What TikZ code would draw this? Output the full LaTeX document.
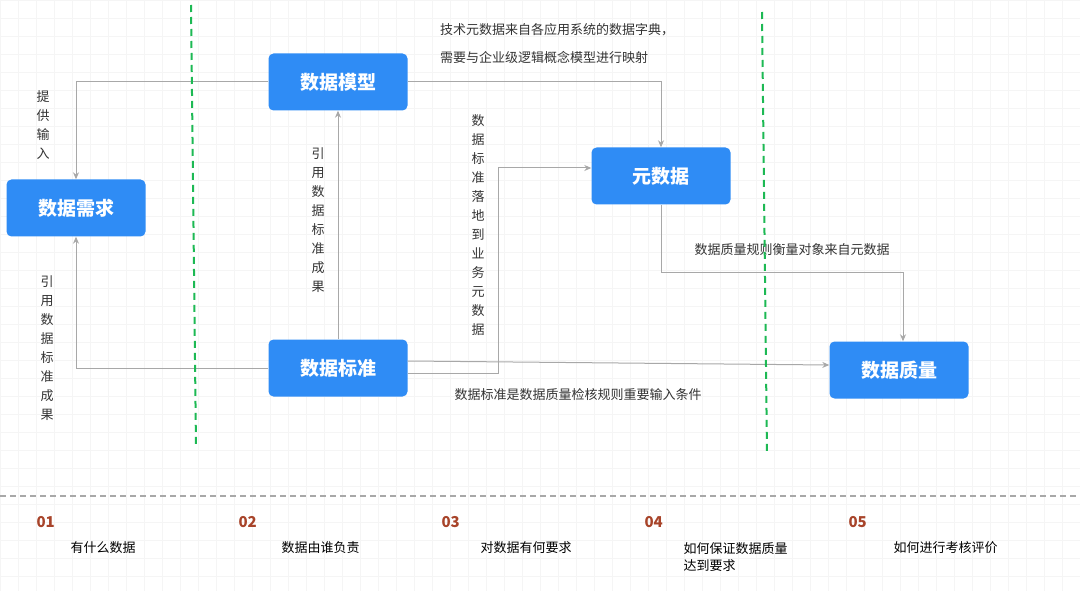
\documentclass[tikz,border=0pt]{standalone}
\usepackage{fontspec}
\setmainfont{Noto Sans CJK SC}
\usetikzlibrary{arrows.meta}
\definecolor{nodeblue}{HTML}{2F8CF5}
\definecolor{numred}{HTML}{A8442A}
\definecolor{lgray}{HTML}{A8A8A8}
\definecolor{gdash}{HTML}{1DB954}
\tikzset{
  box/.style={draw=none,fill=nodeblue,rounded corners=5pt,minimum width=139pt,minimum height=57pt,text=white,font=\fontsize{19}{22}\selectfont\bfseries},
  conn/.style={draw=lgray,line width=1pt,-{Stealth[length=7pt,width=6pt]}},
  lab/.style={font=\fontsize{13}{19}\selectfont,text=black!80,inner sep=0pt},
  vlab/.style={lab,align=center},
  num/.style={font=\fontsize{15}{18}\selectfont\bfseries,text=numred,anchor=west},
  steplab/.style={font=\fontsize{13}{17}\selectfont,text=black,anchor=west,align=left}
}
\begin{document}
\begin{tikzpicture}[x=1pt,y=-1pt]
\useasboundingbox[fill=white] (0,0) rectangle (1080,591);
\foreach \i in {0,18,...,1080} \draw[black!4,line width=0.5pt] (\i,0) -- (\i,591);
\foreach \j in {0,18,...,591} \draw[black!4,line width=0.5pt] (0,\j) -- (1080,\j);
% nodes
\node[box] (model) at (338,82) {数据模型};
\node[box] (req) at (76,208) {数据需求};
\node[box] (meta) at (661,176) {元数据};
\node[box] (std) at (338,368) {数据标准};
\node[box] (qual) at (899,370) {数据质量};
% connectors
\draw[conn] (model.west) -| (req.north);
\draw[conn] (model.east) -| (meta.north);
\draw[conn] (std.north) -- (model.south);
\draw[conn] (std.west) -| (req.south);
\coordinate (c1) at (498,168);
\draw[conn] ([yshift=-5pt]std.east) -| (c1) -- (c1 -| meta.west);
\draw[conn] ([yshift=7pt]std.east) -- ([yshift=5pt]qual.west);
\coordinate (c2) at (661,272);
\coordinate (c3) at (903,272);
\draw[conn] (meta.south) -- (c2) -- (c3) -- (c3 |- qual.north);
% labels
\node[vlab] at (43,125) {提\\供\\输\\入};
\node[vlab] at (47,348) {引\\用\\数\\据\\标\\准\\成\\果};
\node[vlab] at (318,220) {引\\用\\数\\据\\标\\准\\成\\果};
\node[vlab] at (478,225) {数\\据\\标\\准\\落\\地\\到\\业\\务\\元\\数\\据};
\node[lab,anchor=west] at (440,30) {技术元数据来自各应用系统的数据字典，};
\node[lab,anchor=west] at (440,57) {需要与企业级逻辑概念模型进行映射};
\node[lab] at (792,250) {数据质量规则衡量对象来自元数据};
\node[lab] at (578,395) {数据标准是数据质量检核规则重要输入条件};
% dashed lines
\draw[gdash,line width=2pt,dash pattern=on 7pt off 5pt] (191,5) -- (196,448);
\draw[gdash,line width=2pt,dash pattern=on 7pt off 5pt] (762,12) -- (767,455);
\draw[lgray,line width=1.2pt,dash pattern=on 6pt off 4pt] (0,496) -- (1080,496);
% steps
\node[num] at (33,522) {01};
\node[num] at (235,522) {02};
\node[num] at (438,522) {03};
\node[num] at (641,522) {04};
\node[num] at (845,522) {05};
\node[steplab] at (67,548) {有什么数据};
\node[steplab] at (278,548) {数据由谁负责};
\node[steplab] at (477,548) {对数据有何要求};
\node[steplab,anchor=north west] at (680,539) {如何保证数据质量\\达到要求};
\node[steplab] at (890,548) {如何进行考核评价};
\end{tikzpicture}
\end{document}
